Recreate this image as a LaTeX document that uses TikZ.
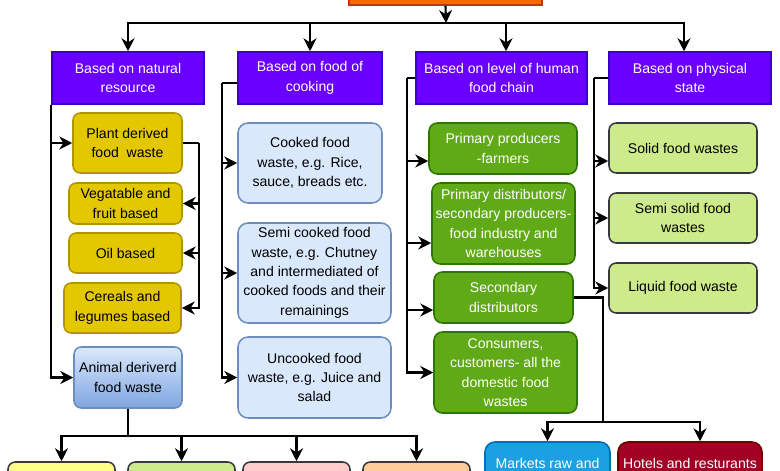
\documentclass[tikz,border=0pt]{standalone}
\usepackage{fontspec}
\setmainfont{Liberation Sans}
\usetikzlibrary{arrows.meta}
\definecolor{rootfill}{HTML}{FA6800}
\definecolor{rootline}{HTML}{C73500}
\definecolor{purplefill}{HTML}{6A00FF}
\definecolor{purpleline}{HTML}{3700CC}
\definecolor{goldfill}{HTML}{E3C800}
\definecolor{goldline}{HTML}{B09500}
\definecolor{paleblue}{HTML}{DAE8FC}
\definecolor{midblue}{HTML}{7EA6E0}
\definecolor{blueline}{HTML}{6C8EBF}
\definecolor{greenfill}{HTML}{60A917}
\definecolor{greenline}{HTML}{2D7600}
\definecolor{limefill}{HTML}{CDEB8B}
\definecolor{greyline}{HTML}{36393D}
\definecolor{lemonfill}{HTML}{FFFF88}
\definecolor{pinkfill}{HTML}{FFCCCC}
\definecolor{peachfill}{HTML}{FFCC99}
\definecolor{cyanfill}{HTML}{1BA1E2}
\definecolor{cyanline}{HTML}{006EAF}
\definecolor{winefill}{HTML}{A20025}
\definecolor{wineline}{HTML}{6F0000}
\tikzstyle{box}=[draw,line width=1.3pt,align=center,inner sep=2pt,font=\fontsize{12}{16.5}\selectfont]
\tikzstyle{header}=[box,fill=purplefill,draw=purpleline,text=white]
\tikzstyle{plantbox}=[box,rounded corners=0.22cm,fill=goldfill,draw=goldline]
\tikzstyle{cookbox}=[box,rounded corners=0.3cm,fill=paleblue,draw=blueline]
\tikzstyle{chainbox}=[box,rounded corners=0.25cm,fill=greenfill,draw=greenline,text=white]
\tikzstyle{statebox}=[box,rounded corners=0.22cm,fill=limefill,draw=greyline]
\tikzstyle{animalbox}=[box,rounded corners=0.22cm,fill=lemonfill,draw=greyline]
\tikzstyle{arc}=[line width=1.8pt,-{Stealth[length=11pt,width=11pt,inset=3.5pt]}]
\tikzstyle{link}=[line width=1.8pt]

\begin{document}
\begin{tikzpicture}[x=0.03cm,y=-0.03cm]
\useasboundingbox (0,0) rectangle (780,470);

\node[box,fill=rootfill,draw=rootline,minimum width=5.79cm,minimum height=1.2cm] (root) at (445.5,-15) {};

\node[header,minimum width=4.56cm,minimum height=1.56cm] (nat) at (128,78) {Based on natural\\resource};
\node[header,minimum width=4.32cm,minimum height=1.56cm] (cook) at (310,78) {Based on food of\\cooking};
\node[header,minimum width=5.13cm,minimum height=1.56cm] (chain) at (501.5,78) {Based on level of human\\food chain};
\node[header,minimum width=4.86cm,minimum height=1.56cm] (phys) at (690,78) {Based on physical\\state};

% natural resource
\node[plantbox,minimum width=3.27cm,minimum height=1.8cm] (plant) at (127.5,143) {Plant derived\\food\ \ waste};
\node[plantbox,minimum width=3.39cm,minimum height=1.23cm] (veg) at (125.5,203.5) {Vegatable and\\fruit based};
\node[plantbox,minimum width=3.39cm,minimum height=1.2cm] (oil) at (125.5,253) {Oil based};
\node[plantbox,minimum width=3.51cm,minimum height=1.5cm] (cereal) at (122.5,308) {Cereals and\\legumes based};
\node[box,rounded corners=0.22cm,top color=paleblue,bottom color=midblue,draw=blueline,minimum width=3.24cm,minimum height=1.83cm] (animal) at (128,377.5) {Animal deriverd\\food waste};
\node[animalbox,fill=lemonfill,minimum width=3.21cm,minimum height=1.2cm] (an1) at (61.5,482) {};
\node[animalbox,fill=limefill,minimum width=3.21cm,minimum height=1.2cm] (an2) at (181.5,482) {};
\node[animalbox,fill=pinkfill,minimum width=3.21cm,minimum height=1.2cm] (an3) at (296.5,482) {};
\node[animalbox,fill=peachfill,minimum width=3.21cm,minimum height=1.2cm] (an4) at (416.5,482) {};

% cooking
\node[cookbox,minimum width=4.32cm,minimum height=2.4cm] (cooked) at (310,163) {Cooked food\\waste, e.g. Rice,\\sauce, breads etc.};
\node[cookbox,minimum width=4.59cm,minimum height=3cm] (semicooked) at (314.5,273) {Semi cooked food\\waste, e.g. Chutney\\and intermediated of\\cooked foods and their\\remainings};
\node[cookbox,minimum width=4.59cm,minimum height=2.43cm] (uncooked) at (314.5,377.5) {Uncooked food\\waste, e.g. Juice and\\salad};

% food chain
\node[chainbox,minimum width=4.44cm,minimum height=1.53cm] (prod) at (503,148.5) {Primary producers\\-farmers};
\node[chainbox,minimum width=4.29cm,minimum height=2.43cm] (pdist) at (503.5,223.5) {Primary distributors/\\secondary producers-\\food industry and\\warehouses};
\node[chainbox,minimum width=4.17cm,minimum height=1.53cm] (sec) at (503.5,297.5) {Secondary\\distributors};
\node[chainbox,minimum width=4.29cm,minimum height=2.43cm] (cons) at (505.5,372.5) {Consumers,\\customers- all the\\domestic food\\wastes};
\node[box,rounded corners=0.3cm,fill=cyanfill,draw=cyanline,text=white,minimum width=3.75cm,minimum height=1.26cm] (markets) at (547.5,463) {Markets raw and};
\node[box,rounded corners=0.3cm,fill=winefill,draw=wineline,text=white,minimum width=4.32cm,minimum height=1.26cm] (hotels) at (690,463) {Hotels and resturants};

% physical state
\node[statebox,minimum width=4.44cm,minimum height=1.5cm] (solid) at (683,148) {Solid food wastes};
\node[statebox,minimum width=4.44cm,minimum height=1.5cm] (semisolid) at (683,218) {Semi solid food\\wastes};
\node[statebox,minimum width=4.44cm,minimum height=1.5cm] (liquid) at (683,288) {Liquid food waste};

\coordinate (bus) at (446,23);
\coordinate (plantT) at (199,143);
\coordinate (animalT) at (128,436);
\coordinate (cookT) at (222,83);
\coordinate (chainT) at (407,78);
\coordinate (physT) at (594,78);
\coordinate (secT) at (603,297.5);
\coordinate (secB) at (603,422);

\draw[arc] (root.south) -- (bus);
\draw[arc] (bus) -| (nat.north);
\draw[arc] (bus) -| (cook.north);
\draw[arc] (bus) -| ([xshift=0.135cm]chain.north);
\draw[arc] (bus) -| ([xshift=-0.18cm]phys.north);

\draw[arc] (nat.south west) |- (plant.west);
\draw[arc] (nat.south west) |- (animal.west);
\draw[link] (plant.east) -- (plantT);
\draw[arc] (plantT) |- (veg.east);
\draw[arc] (plantT) |- (oil.east);
\draw[arc] (plantT) |- (cereal.east);
\draw[link] (animal.south) -- (animalT);
\draw[arc] (animalT) -| (an1.north);
\draw[arc] (animalT) -| (an2.north);
\draw[arc] (animalT) -| (an3.north);
\draw[arc] (animalT) -| (an4.north);

\draw[link] ([yshift=-0.15cm]cook.west) -- (cookT);
\draw[arc] (cookT) |- (cooked.west);
\draw[arc] (cookT) |- (semicooked.west);
\draw[arc] (cookT) |- (uncooked.west);

\draw[link] (chain.west) -- (chainT);
\draw[arc] (chainT) |- ([yshift=-0.375cm]prod.west);
\draw[arc] (chainT) |- ([yshift=-0.585cm]pdist.west);
\draw[arc] (chainT) |- ([yshift=-0.375cm]sec.west);
\draw[arc] (chainT) |- (cons.west);
\draw[link] (sec.east) -- (secT) -- (secB);
\draw[arc] (secB) -| (markets.north);
\draw[arc] (secB) -| ([xshift=0.3cm]hotels.north);

\draw[link] (phys.west) -- (physT);
\draw[arc] (physT) |- ([yshift=-0.39cm]solid.west);
\draw[arc] (physT) |- (semisolid.west);
\draw[arc] (physT) |- (liquid.west);

\end{tikzpicture}
\end{document}
